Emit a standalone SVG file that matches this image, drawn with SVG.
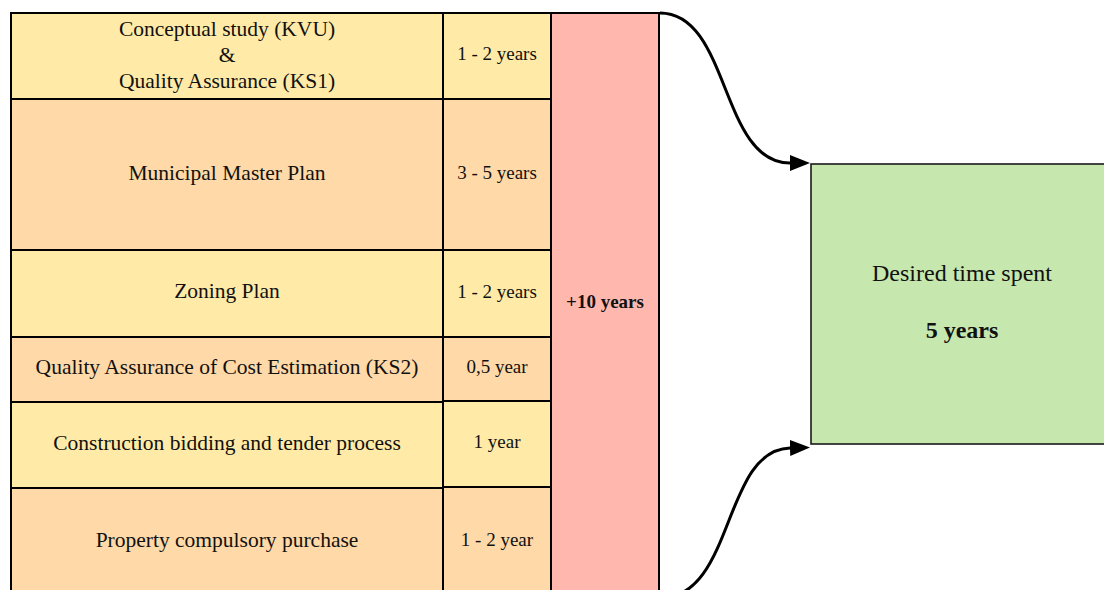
<svg xmlns="http://www.w3.org/2000/svg" width="1104" height="590" viewBox="0 0 1104 590">
  <style>
    .cell { stroke: #000; stroke-width: 2; }
    .yellow { fill: #ffeba7; }
    .orange { fill: #ffd9a7; }
    .red { fill: #ffb7ae; }
    .green { fill: #c6e7ad; stroke: #1a1a1a; stroke-width: 1.6; }
    text { font-family: "Liberation Serif", "Times New Roman", serif; fill: #111; text-anchor: middle; }
    .t1 { font-size: 21.5px; }
    .t2 { font-size: 19px; }
    .b { font-weight: bold; }
    .t3 { font-size: 24px; }
    .edge { fill: none; stroke: #000; stroke-width: 3; }
  </style>
  <defs>
    <marker id="arrow" markerUnits="userSpaceOnUse" markerWidth="22" markerHeight="18" refX="0" refY="8" orient="auto">
      <path d="M0,0 L20,8 L0,16 Z" fill="#000"/>
    </marker>
  </defs>

  <rect width="1104" height="590" fill="#fff"/>

  <!-- overall duration column -->
  <g id="total">
    <rect class="cell red" x="551" y="13" width="108" height="590"/>
    <text class="t2 b" x="605" y="308">+10 years</text>
  </g>

  <!-- phase rows: description + duration -->
  <g id="phase-kvu">
    <rect class="cell yellow" x="11" y="13" width="432" height="86"/>
    <rect class="cell yellow" x="443" y="13" width="108" height="86"/>
    <text class="t1" x="227" y="36">Conceptual study (KVU)</text>
    <text class="t1" x="227" y="62">&amp;</text>
    <text class="t1" x="227" y="88">Quality Assurance (KS1)</text>
    <text class="t2" x="497" y="60">1 - 2 years</text>
  </g>

  <g id="phase-master-plan">
    <rect class="cell orange" x="11" y="99" width="432" height="151"/>
    <rect class="cell orange" x="443" y="99" width="108" height="151"/>
    <text class="t1" x="227" y="180">Municipal Master Plan</text>
    <text class="t2" x="497" y="179">3 - 5 years</text>
  </g>

  <g id="phase-zoning">
    <rect class="cell yellow" x="11" y="250" width="432" height="87"/>
    <rect class="cell yellow" x="443" y="250" width="108" height="87"/>
    <text class="t1" x="227" y="298">Zoning Plan</text>
    <text class="t2" x="497" y="298">1 - 2 years</text>
  </g>

  <g id="phase-ks2">
    <rect class="cell orange" x="11" y="337" width="432" height="65"/>
    <rect class="cell orange" x="443" y="337" width="108" height="64"/>
    <text class="t1" x="227" y="374">Quality Assurance of Cost Estimation (KS2)</text>
    <text class="t2" x="497" y="373">0,5 year</text>
  </g>

  <g id="phase-tender">
    <rect class="cell yellow" x="11" y="402" width="432" height="86"/>
    <rect class="cell yellow" x="443" y="401" width="108" height="86"/>
    <text class="t1" x="227" y="450">Construction bidding and tender process</text>
    <text class="t2" x="497" y="448">1 year</text>
  </g>

  <g id="phase-purchase">
    <rect class="cell orange" x="11" y="488" width="432" height="115"/>
    <rect class="cell orange" x="443" y="487" width="108" height="116"/>
    <text class="t1" x="227" y="547">Property compulsory purchase</text>
    <text class="t2" x="497" y="546">1 - 2 year</text>
  </g>

  <!-- target duration -->
  <g id="target">
    <rect class="green" x="811" y="164" width="302" height="280"/>
    <text class="t3" x="962" y="281">Desired time spent</text>
    <text class="t3 b" x="962" y="338">5 years</text>
  </g>

  <!-- connectors -->
  <g id="connectors">
    <path class="edge" d="M660 13 C730 13, 720 163, 790 163" marker-end="url(#arrow)"/>
    <path class="edge" d="M660 598 C735 598, 722 450, 790 448" marker-end="url(#arrow)"/>
  </g>
</svg>
